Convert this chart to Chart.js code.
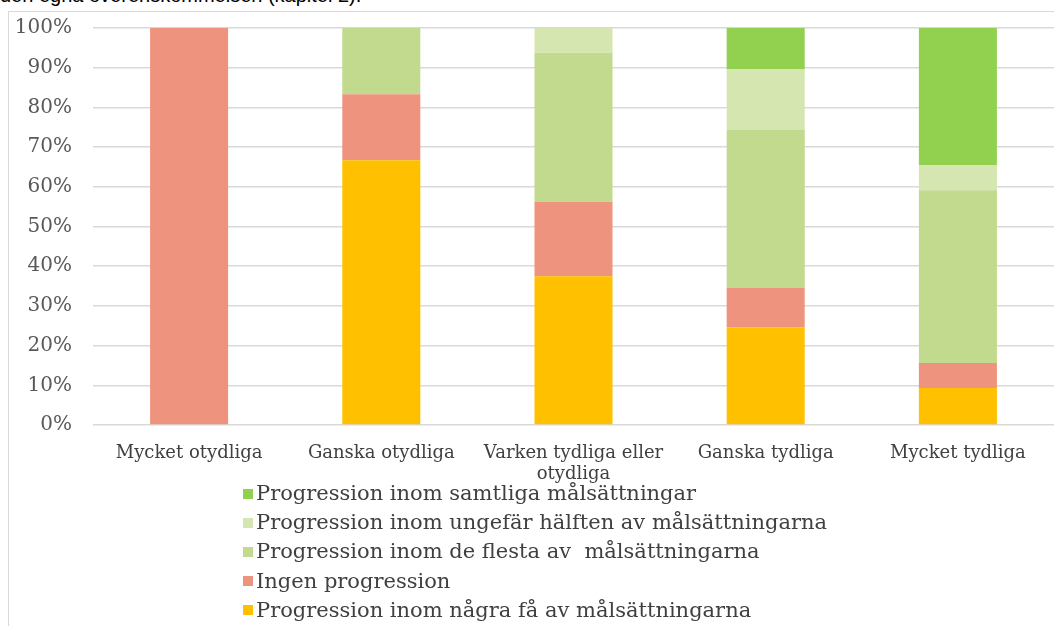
<!DOCTYPE html>
<html>
<head>
<meta charset="utf-8">
<script src="https://cdn.jsdelivr.net/npm/chart.js@4/dist/chart.umd.min.js"></script>
<style>
  body{margin:0;background:#fff;overflow:hidden;width:1054px;height:626px;position:relative;}
  .top{position:absolute;left:0;top:-15px;font:20px "Liberation Sans",Arial,sans-serif;color:#000;line-height:20px;white-space:nowrap;}
  .frame{position:absolute;left:8px;top:11px;width:1100px;height:700px;border-left:1px solid #d9d9d9;border-top:1px solid #d9d9d9;}
  .wrap{position:absolute;left:9px;top:-5px;width:1045px;height:490px;}
  #legend{position:absolute;left:243px;top:479px;font:21px "DejaVu Serif",serif;color:#404040;}
  #legend div{height:29.2px;line-height:29.2px;white-space:pre;}
  #legend span{display:inline-block;width:10px;height:10px;margin-right:3px;vertical-align:middle;position:relative;top:-1px;}
</style>
</head>
<body>
<div class="top">den egna överenskommelsen (kapitel 2).</div>
<div class="frame"></div>
<div class="wrap"><canvas id="myChart" width="1045" height="490"></canvas></div>
<div id="legend"></div>
<script>
var categories = ["Mycket otydliga", "Ganska otydliga", ["Varken tydliga eller", "otydliga"], "Ganska tydliga", "Mycket tydliga"];

// stacked from the bottom up
var nagraFa   = [0,    66.7, 37.5,  24.6, 9.3];
var ingen     = [100,  16.6, 18.75, 10.0, 6.3];
var flesta    = [0,    16.7, 37.5,  39.7, 43.5];
var halften   = [0,    0,    6.25,  15.4, 6.4];
var samtliga  = [0,    0,    0,     10.3, 34.5];

var yTicks = [0, 10, 20, 30, 40, 50, 60, 70, 80, 90, 100];

var seriesNames = [
    "Progression inom några få av målsättningarna",
    "Ingen progression",
    "Progression inom de flesta av  målsättningarna",
    "Progression inom ungefär hälften av målsättningarna",
    "Progression inom samtliga målsättningar"
];
var colors = ["#FFC000", "#EE937D", "#C1DA8D", "#D6E6B1", "#92D050"];

(function(){
    var values = [nagraFa, ingen, flesta, halften, samtliga];
    var datasets = [];
    values.forEach(function(v, i){
        datasets.push({label: seriesNames[i], data: v, backgroundColor: colors[i],
            barPercentage: 0.406, categoryPercentage: 1});
    });

    var ctx = document.getElementById("myChart").getContext("2d");
    var myChart = new Chart(ctx, {
        type: 'bar',
        data: {labels: categories, datasets: datasets},
        options: {
            responsive: false,
            animation: false,
            layout: {padding: {top: 5, right: 0, left: 0, bottom: 0}},
            plugins: {legend: {display: false}, tooltip: {enabled: false}},
            scales: {
                x: {
                    stacked: true,
                    grid: {display: false},
                    border: {display: false},
                    ticks: {color: '#404040', padding: 10, maxRotation: 0, autoSkip: false,
                        font: {family: '"DejaVu Serif", serif', size: 18, lineHeight: 1.15}},
                    afterFit: function(s){ s.height = 60; }
                },
                y: {
                    stacked: true, min: 0, max: 100,
                    afterBuildTicks: function(s){ s.ticks = yTicks.map(function(v){ return {value: v}; }); },
                    grid: {color: '#d9d9d9', lineWidth: 1.5, drawTicks: false},
                    border: {display: false},
                    ticks: {color: '#595959', padding: 21,
                        font: {family: '"DejaVu Serif", serif', size: 20},
                        callback: function(v){ return v + '%'; }},
                    afterFit: function(s){ s.width = 84; }
                }
            }
        }
    });

    // legend listed top to bottom, reverse of stacking order
    var leg = document.getElementById("legend");
    for (var i = datasets.length - 1; i >= 0; i--) {
        var row = document.createElement("div");
        var box = document.createElement("span");
        box.style.background = datasets[i].backgroundColor;
        row.appendChild(box);
        row.appendChild(document.createTextNode(datasets[i].label));
        leg.appendChild(row);
    }
})()
</script>
</body>
</html>
